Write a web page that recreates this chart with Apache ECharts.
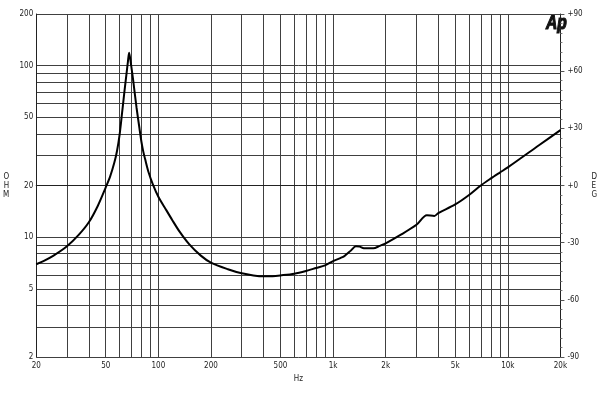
<!DOCTYPE html>
<html>
<head>
<meta charset="utf-8">
<title>Impedance</title>
<style>
  html, body { margin: 0; padding: 0; background: #fff; }
  #chart { width: 600px; height: 400px; }
</style>
<script src="https://cdn.jsdelivr.net/npm/echarts@6/dist/echarts.min.js"></script>
</head>
<body>
<div id="chart"></div>
<script>
  // impedance curve, values
  var freqs = [20, 22, 25, 30, 35, 40, 45, 50, 53, 56, 58, 60, 62, 64, 66, 67, 68, 69, 70.5, 72, 75, 78, 80, 82, 84, 88, 93,
    100, 110, 120, 132, 150, 175, 200, 250, 300, 350, 400, 450, 500, 600, 700, 800, 900, 1000, 1100, 1160, 1265, 1350,
    1420, 1500, 1700, 1850, 2000, 2430, 3000, 3440, 3800, 4000, 5000, 6000, 7000, 8000, 9000, 10000, 15000, 20000];
  var ohms = [6.95, 7.25, 7.78, 8.85, 10.3, 12.2, 15.2, 19.5, 22.6, 27.2, 31.8, 39.5, 53, 71, 93, 106, 119, 110, 94, 80, 57, 43, 36, 31.5, 28.5, 23.8, 20.3,
    17.2, 14.6, 12.6, 10.8, 9.1, 7.8, 7.1, 6.5, 6.15, 5.98, 5.91, 5.92, 5.98, 6.12, 6.35, 6.61, 6.85, 7.25, 7.55, 7.75, 8.35, 8.85,
    8.8, 8.6, 8.6, 8.9, 9.2, 10.3, 11.8, 13.4, 13.3, 13.8, 15.5, 17.6, 20.0, 22.0, 23.8, 25.5, 34.2, 42.1];

  // grid lines and tick labels
  var freqGrid = [20, 30, 40, 50, 60, 70, 80, 90, 100, 200, 300, 400, 500, 600, 700, 800, 900,
    1000, 2000, 3000, 4000, 5000, 6000, 7000, 8000, 9000, 10000, 20000];
  var freqLabels = [20, 50, 100, 200, 500, 1000, 2000, 5000, 10000, 20000];
  var ohmGrid = [2, 3, 4, 5, 6, 7, 8, 9, 10, 20, 30, 40, 50, 60, 70, 80, 90, 100, 200];
  var ohmLabels = [2, 5, 10, 20, 50, 100, 200];
  var degMin = -90, degMax = 90, degStep = 30;

  var App = {};

  App.init = function(){
    var _this = this;
    var font = "'Liberation Sans Narrow', 'DejaVu Sans Condensed', 'Liberation Sans', sans-serif";
    var gridColor = '#404040';

    _this.F_loadChart = function(){
      var chart = echarts.init(document.getElementById('chart'));

      var points = freqs.map(function(f, i){ return [f, ohms[i]]; });

      var option = {
        animation: false,
        backgroundColor: '#fff',
        grid: { left: 35, right: 35, top: 14, bottom: 43 },
        xAxis: {
          type: 'log', logBase: 10, min: 20, max: 20000,
          name: 'Hz', nameLocation: 'middle', nameGap: 18,
          nameTextStyle: { fontFamily: font, fontSize: 8, color: '#222' },
          axisLine: { show: true, lineStyle: { color: '#222', width: 1 } },
          axisTick: { show: false, customValues: freqGrid },
          axisLabel: {
            customValues: freqLabels, margin: 5,
            fontFamily: font, fontSize: 8, color: '#222',
            formatter: function(v){ return v >= 1000 ? (v / 1000) + 'k' : String(v); }
          },
          splitLine: { show: true, lineStyle: { color: gridColor, width: 1 } }
        },
        yAxis: [{
          type: 'log', logBase: 10, min: 2, max: 200,
          name: 'O\nH\nM', nameLocation: 'middle', nameGap: 27, nameRotate: 0,
          nameTextStyle: { fontFamily: font, fontSize: 8, lineHeight: 9, color: '#222' },
          axisLine: { show: true, lineStyle: { color: '#222', width: 1 } },
          axisTick: { show: false, customValues: ohmGrid },
          axisLabel: {
            customValues: ohmLabels, margin: 3,
            fontFamily: font, fontSize: 8, color: '#222'
          },
          splitLine: { show: true, lineStyle: { color: gridColor, width: 1 } }
        }, {
          type: 'value', position: 'right', min: degMin, max: degMax, interval: degStep,
          name: 'D\nE\nG', nameLocation: 'middle', nameGap: 31, nameRotate: 0,
          nameTextStyle: { fontFamily: font, fontSize: 8, lineHeight: 9, color: '#222' },
          axisLine: { show: true, lineStyle: { color: '#222', width: 1 } },
          axisTick: { show: true, length: 4, lineStyle: { color: '#555' } },
          minorTick: { show: true, splitNumber: 6, length: 2, lineStyle: { color: '#777' } },
          axisLabel: {
            margin: 7, fontFamily: font, fontSize: 8, color: '#222',
            formatter: function(v){ return (v >= 0 ? '+' : '') + v; }
          },
          splitLine: { show: false }
        }],
        // logo in the top right corner
        graphic: [{
          type: 'text', x: 546, y: 13, scaleX: 0.78,
          style: {
            text: 'Ap', fontFamily: 'Liberation Sans', fontSize: 20, fontWeight: 'bold', fontStyle: 'italic',
            fill: '#111', stroke: '#111', lineWidth: 1.2
          }
        }],
        series: [{
          type: 'line', data: points, yAxisIndex: 0,
          showSymbol: false, smooth: 0.3,
          lineStyle: { color: '#000', width: 2 }
        }]
      };

      chart.setOption(option);
    };

    _this.F_loadChart();
  };

  App.init();
</script>
</body>
</html>
